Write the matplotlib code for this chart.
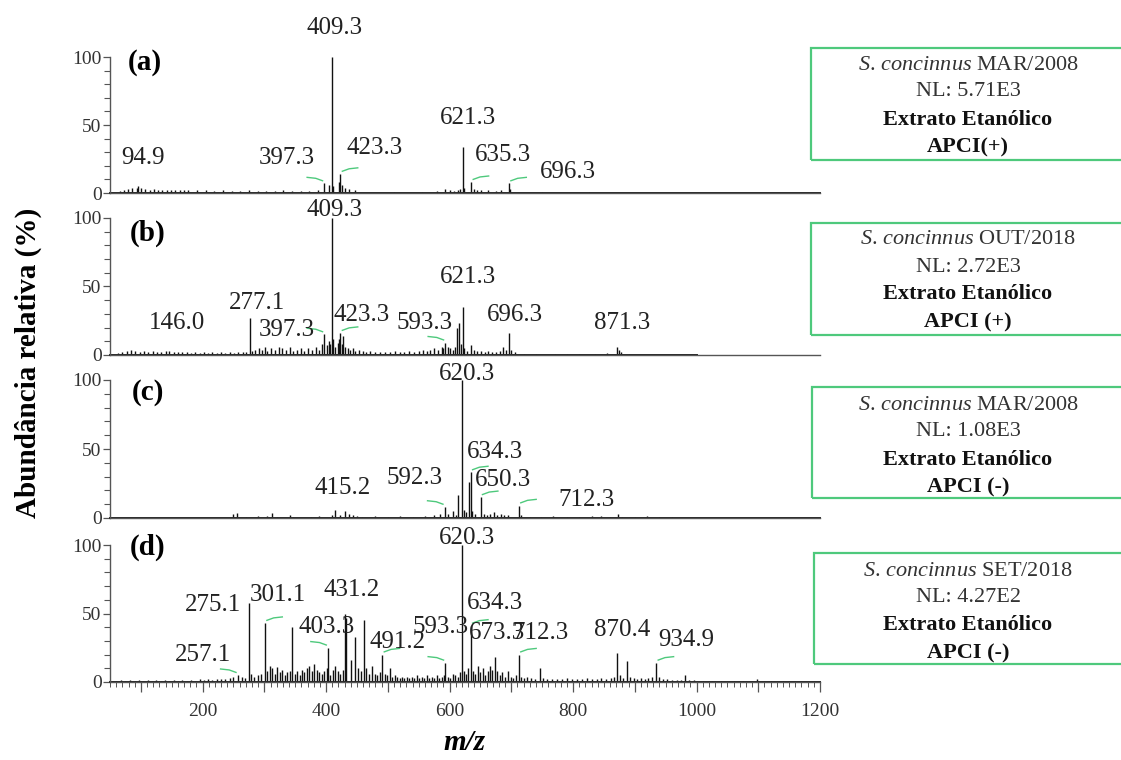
import matplotlib
matplotlib.use('Agg')
import matplotlib.pyplot as plt
from matplotlib.patches import Rectangle
from matplotlib.ticker import MultipleLocator, FixedLocator, FuncFormatter

plt.rcParams['font.family'] = ['Liberation Serif', 'DejaVu Serif']
plt.rcParams['mathtext.fontset'] = 'custom'
plt.rcParams['mathtext.rm'] = 'Liberation Serif'
plt.rcParams['mathtext.it'] = 'Liberation Serif:italic'
plt.rcParams['mathtext.bf'] = 'Liberation Serif:bold'

# ---------------- data (m/z, relative abundance %) ----------------
mz_a = [66, 72, 79, 86, 93, 94.9, 100, 107, 114, 121, 128, 135, 142, 149, 156, 163, 170, 177,
        191, 205, 219, 233, 247, 261, 275, 289, 303, 317, 331, 345, 359, 373, 387,
        397.3, 405, 409.3, 411, 421, 423.3, 425, 431, 437, 447,
        510, 555, 580, 593, 600, 607, 613, 617, 621.3, 623, 635.3, 640, 645, 651, 663, 675,
        683, 696.3, 698, 750, 826]
int_a = [1.5, 2.5, 3, 4, 3.5, 5, 3.5, 3, 2.5, 3, 2.5, 2.5, 2, 2.5, 2, 2, 2.5, 2,
         2, 2, 1.5, 2, 1.5, 1.5, 2, 1.5, 1.5, 1.5, 2, 1.5, 1.5, 1.5, 2,
         7, 6, 100, 5, 8, 14, 6, 4, 3, 2,
         1, 1, 1.5, 3, 2, 1.5, 2.5, 3, 34, 4, 8, 3, 2, 2, 2, 1.5,
         2, 7, 3, 1, 1]

mz_b = [63, 70, 77, 84, 91, 98, 105, 112, 119, 126, 133, 140, 146.0, 153, 160, 167, 174, 181,
        188, 195, 202, 209, 216, 223, 230, 237, 244, 251, 258, 265, 271,
        277.1, 280, 285, 291, 296, 301, 305, 311, 317, 323, 329, 335, 341, 347, 353, 359, 365,
        371, 377, 383, 389, 393, 397.3, 402, 405, 407, 409.3, 411, 415, 419, 421, 423.3, 425,
        427, 431, 435, 439, 443, 447, 453, 459, 465, 471, 479, 487, 495, 503, 511, 519, 527,
        535, 543, 551, 557, 563, 569, 575, 581, 587, 590, 593.3, 597, 601, 605, 609, 612, 615,
        618, 621.3, 624, 628, 635, 639, 645, 651, 657, 663, 669, 675, 681, 687, 692, 696.3,
        700, 706, 720, 740, 770, 790, 810, 835, 855, 871.3, 874, 878, 890]
int_b = [1.5, 2, 3, 3.5, 3, 2.5, 3, 2.5, 3, 2.5, 2, 3, 3, 2.5, 2, 2.5, 2, 1.5,
         2, 1.5, 2, 1.5, 2, 1.5, 2, 1.5, 2, 1.5, 2, 2, 2.5,
         27, 3, 4, 5, 4, 6, 3, 5, 4, 6, 5, 4, 6, 3, 4, 5, 3,
         5, 4, 6, 4, 8, 15, 7, 10, 8, 100, 12, 6, 9, 12, 16, 8,
         14, 6, 5, 4, 5, 3, 4, 3, 2, 3, 2, 2, 2.5, 2, 3, 2, 2.5,
         3, 2.5, 3, 4, 3, 4, 5, 4, 6, 5, 9, 6, 5, 4, 6, 20, 23,
         8, 35, 5, 3, 7, 4, 3, 3, 2, 3, 2, 2, 3, 6, 4, 16,
         4, 2, 1, 1, 1, 1, 1, 1, 1.5, 6, 4, 2, 1]

mz_c = [250, 256, 270, 290, 305, 312, 320, 341, 346, 375, 388, 410, 415.2, 423, 430, 437, 443,
        450, 458, 480, 500, 520, 540, 560, 575, 585, 592.3, 598, 605, 610, 614, 620.3, 623,
        627, 632, 634.3, 637, 642, 650.3, 655, 660, 666, 672, 677, 683, 688, 694, 712.3, 716,
        730, 748, 768, 790, 810, 830, 845, 860, 873, 880, 900, 920, 940, 960]
int_c = [3, 3.5, 1, 1.5, 1.5, 3.5, 1, 2.5, 1, 1, 1.5, 2.5, 6, 2, 5, 3, 2.5,
         1.5, 1, 1.5, 1, 1.5, 1, 1.5, 2, 3, 8, 3, 5, 2, 17, 100, 6,
         4, 26, 33, 5, 3, 15, 3, 2, 3, 4, 2, 3, 2, 2, 9, 2,
         1, 1, 1.5, 1, 1, 1.5, 1.5, 1, 3, 1, 1, 1.5, 1, 1]

mz_d = [60, 68, 75, 82, 90, 97, 104, 111, 118, 125, 132, 139, 146, 153, 160, 167, 174, 181, 188,
        195, 202, 209, 216, 223, 230, 237, 244, 250, 257.1, 263, 268, 275.1, 279, 284, 289, 295,
        301.1, 305, 309, 313, 317, 321, 325, 329, 333, 337, 341, 345, 349, 353, 357, 361, 365,
        369, 373, 377, 381, 385, 389, 393, 397, 401, 403.3, 407, 411, 415, 419, 423, 427,
        431.2, 433, 441, 447, 452, 457, 461, 465, 469, 474, 479, 483, 487, 491.2, 495, 499,
        503, 507, 511, 515, 519, 523, 527, 531, 535, 539, 543, 547, 551, 555, 559, 563, 567,
        571, 575, 579, 583, 587, 591, 593.3, 597, 601, 605, 609, 613, 617, 620.3, 623, 627,
        630, 634.3, 638, 642, 646, 650, 654, 658, 662, 666, 669, 673.3, 677, 681, 685, 689,
        695, 699, 703, 707, 712.3, 716, 720, 726, 732, 738, 746, 752, 758, 766, 774, 782, 790,
        798, 806, 814, 822, 830, 838, 846, 854, 862, 866, 870.4, 876, 881, 887, 892, 898, 904,
        910, 916, 922, 928, 934.9, 939, 945, 952, 960, 968, 975, 981, 988, 996, 1010, 1025,
        1040, 1060, 1075, 1098, 1120, 1140]
int_d = [1, 1.5, 1, 1.5, 1, 1.5, 1, 1.5, 1, 1.5, 1, 1.5, 1, 1.5, 1, 1.5, 1, 1.5, 1,
         2, 1.5, 2, 1.5, 2, 2.5, 2, 3, 3.5, 5, 4, 3, 58, 6, 4, 5, 6,
         43, 8, 12, 10, 6, 11, 7, 9, 5, 7, 8, 40, 6, 8, 5, 9, 7,
         10, 12, 8, 13, 9, 7, 6, 8, 10, 25, 5, 9, 12, 8, 6, 9,
         50, 47, 16, 33, 10, 8, 45, 10, 6, 12, 6, 5, 7, 20, 6, 5,
         10, 4, 5, 4, 3, 4, 3, 4, 3, 4, 3, 5, 3, 4, 3, 5, 3,
         4, 3, 5, 3, 4, 5, 14, 4, 3, 6, 5, 4, 7, 100, 8, 6,
         10, 41, 8, 6, 12, 7, 10, 5, 8, 12, 9, 18, 8, 5, 7, 4,
         8, 4, 3, 5, 20, 4, 3, 4, 3, 2.5, 10, 3, 2, 2.5, 2, 2, 3,
         2, 2.5, 2, 3, 2, 2, 3, 2, 3, 4, 21, 5, 3, 15, 4, 3, 2,
         3, 2, 3, 4, 14, 4, 2, 2, 1.5, 1.5, 1.5, 5, 1.5, 1.5, 1, 1,
         1, 1, 1, 2, 1, 1]

# annotated peaks
ann_a = [94.9, 397.3, 409.3, 423.3, 621.3, 635.3, 696.3]
ann_b = [146.0, 277.1, 397.3, 409.3, 423.3, 593.3, 621.3, 696.3, 871.3]
ann_c = [415.2, 592.3, 620.3, 634.3, 650.3, 712.3]
ann_d = [257.1, 275.1, 301.1, 403.3, 431.2, 491.2, 593.3, 620.3, 634.3, 673.3, 712.3, 870.4, 934.9]

panel_letters = ['(a)', '(b)', '(c)', '(d)']
box_species = ['MAR/2008', 'OUT/2018', 'MAR/2008', 'SET/2018']
box_nl = ['NL: 5.71E3', 'NL: 2.72E3', 'NL: 1.08E3', 'NL: 4.27E2']
box_mode = ['APCI(+)', 'APCI (+)', 'APCI (-)', 'APCI (-)']
scan_end = [1200, 1000, 1200, 1200]

# ---------------- layout (label positions in data units, leader flags) ----------------
lab_a = [(104, 26), (337, 26), (414, 121), (479, 33), (630, 55), (686, 28), (792, 15.5)]
lead_a = [0, 1, 0, 1, 0, 1, 1]
lab_b = [(158, 23), (288, 38), (337, 18), (414, 106), (458, 29), (560, 23), (630, 57), (706, 29), (879, 23)]
lead_b = [0, 0, 1, 0, 1, 1, 0, 0, 0]
lab_c = [(426, 22), (544, 29), (628, 104), (673, 48), (686, 27.5), (822, 13)]
lead_c = [0, 1, 0, 1, 1, 1]
lab_d = [(201, 20), (217, 56), (322, 63.5), (401, 40), (442, 67), (515, 29), (585, 40),
         (628, 105), (673, 57.6), (677, 36), (748, 36), (879, 38), (984, 30.6)]
lead_d = [1, 0, 1, 1, 0, 1, 1, 0, 1, 0, 1, 0, 1]

W, H = 1121, 760
fig = plt.figure(figsize=(W / 100, H / 100), dpi=100)

panels = [
    (mz_a, int_a, ann_a, lab_a, lead_a, (193, 57), (0.025, 0.963)),
    (mz_b, int_b, ann_b, lab_b, lead_b, (355, 218), (0.028, 0.89)),
    (mz_c, int_c, ann_c, lab_c, lead_c, (518, 380), (0.031, 0.906)),
    (mz_d, int_d, ann_d, lab_d, lead_d, (682, 545), (0.028, 0.985)),
]
green = '#4ec97c'
for i, (mz, inten, ann, lab, lead, (y0, y1), letpos) in enumerate(panels):
    ax = fig.add_axes([110 / W, 1 - y0 / H, 710 / W, (y0 - y1) / H])
    ax.set_xlim(50, 1200)
    ax.set_ylim(0, 100)
    for s in ['top', 'right']:
        ax.spines[s].set_visible(False)
    for s in ['left', 'bottom']:
        ax.spines[s].set_color('#555555')
        ax.spines[s].set_linewidth(1.0)
    ax.vlines(mz, 0, inten, color='#111111', lw=1.0, clip_on=False)
    ax.plot([50, scan_end[i]], [0, 0], color='#222222', lw=1.4, clip_on=False)
    ax.yaxis.set_major_locator(FixedLocator([0, 50, 100]))
    ax.yaxis.set_minor_locator(MultipleLocator(10))
    ax.tick_params(axis='y', which='major', direction='out', length=5, width=0.9,
                   color='#555555', labelsize=14, labelcolor='#333333', pad=1)
    ax.tick_params(axis='y', which='minor', direction='out', length=4, width=0.8, color='#555555')
    if i < 3:
        ax.tick_params(axis='x', which='both', bottom=False, labelbottom=False)
    else:
        ax.xaxis.set_major_locator(MultipleLocator(100))
        ax.xaxis.set_minor_locator(MultipleLocator(10))
        ax.xaxis.set_major_formatter(FuncFormatter(
            lambda v, p: f'{int(round(v))}' if (round(v) % 200 == 0 and v >= 200) else ''))
        ax.tick_params(axis='x', which='major', direction='out', length=7, width=0.9,
                       color='#555555', labelsize=14, labelcolor='#333333', pad=8)
        ax.tick_params(axis='x', which='minor', direction='out', length=3.5, width=0.7,
                       color='#555555')
    lookup = dict(zip(mz, inten))
    for pk, (lx, ly), ld in zip(ann, lab, lead):
        ax.text(lx, ly, f'{pk:.1f}', ha='center', va='center', fontsize=18,
                color='#222222', clip_on=False)
        if ld:
            h = lookup[pk]
            sgn = 1 if lx > pk else -1
            ax.plot([pk + sgn * 3, pk + sgn * 14, pk + sgn * 28],
                    [h + 2.0, h + 3.8, h + 4.5], color=green, lw=1.0, clip_on=False)
    ax.text(letpos[0], letpos[1], panel_letters[i], transform=ax.transAxes,
            fontsize=21, fontweight='bold', ha='left', va='center')

# info boxes
box_geo = [(811, 48, 160), (811, 223, 335), (812, 387, 498), (814, 553, 664)]
line_y = [(65, 92, 120, 147), (240, 267, 294, 322), (405, 432, 460, 487), (572, 598, 625, 653)]
for i, (bx, by0, by1) in enumerate(box_geo):
    fig.patches.append(Rectangle((bx / W, 1 - by1 / H), (W + 10 - bx) / W, (by1 - by0) / H,
                                 transform=fig.transFigure, fill=False, edgecolor=green,
                                 lw=1.6, clip_on=False))
    cx = 968 / W
    ly = line_y[i]
    fig.text(cx, 1 - ly[0] / H,
             r'$\mathit{S.\,concinnus}\ \mathrm{' + box_species[i] + '}$',
             ha='center', va='center', fontsize=16, color='#333333')
    fig.text(cx, 1 - ly[1] / H, box_nl[i], ha='center', va='center', fontsize=16, color='#333333')
    fig.text(cx, 1 - ly[2] / H, 'Extrato Etanólico', ha='center', va='center', fontsize=16,
             fontweight='bold', color='#111111')
    fig.text(cx, 1 - ly[3] / H, box_mode[i], ha='center', va='center', fontsize=16,
             fontweight='bold', color='#111111')

fig.text(28 / W, 1 - 363 / H, 'Abundância relativa (%)', rotation=90, ha='center', va='center',
         fontsize=21, fontweight='bold')
fig.text(465 / W, 1 - 742 / H, 'm/z', ha='center', va='center', fontsize=21,
         fontweight='bold', fontstyle='italic')

fig.savefig('out.png', dpi=100, facecolor='white')
